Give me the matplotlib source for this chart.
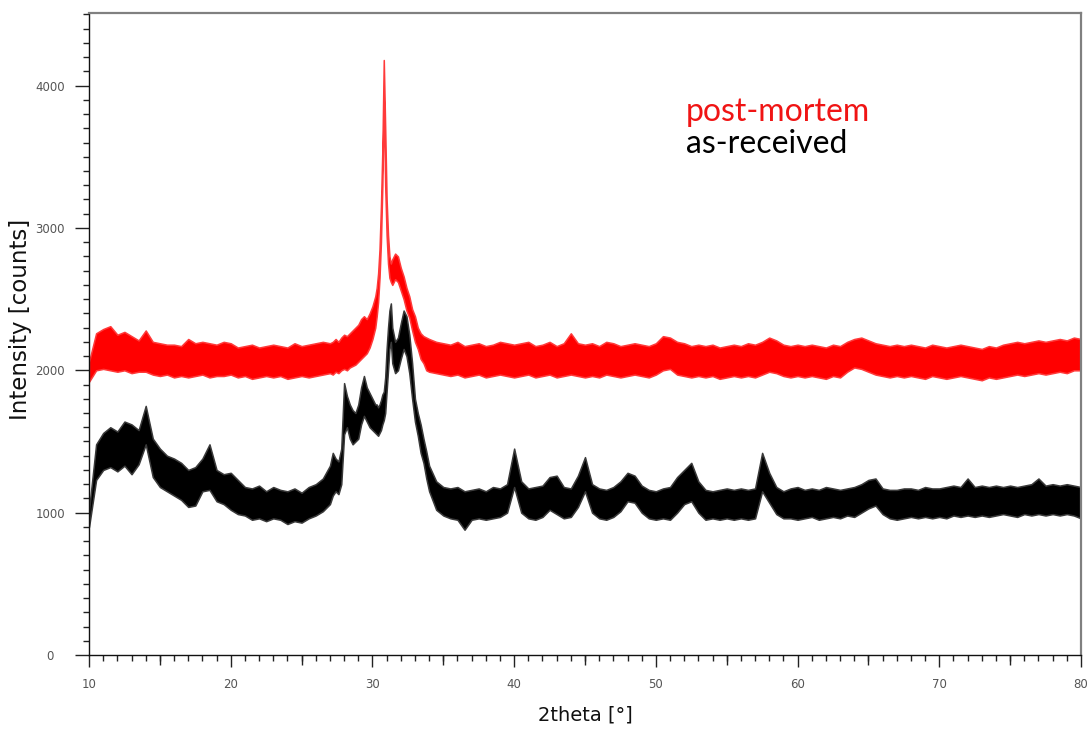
import numpy as np
import matplotlib
matplotlib.use("Agg")
import matplotlib.pyplot as plt
from matplotlib.ticker import MultipleLocator

# 2theta grid: coarse on the flat parts, finer across the 27-34 deg hump
tt = np.concatenate([
    np.linspace(10.0, 26.5, 34),
    np.linspace(27.0, 30.2, 17),
    np.linspace(30.3, 31.4, 12),
    np.linspace(31.6, 34.0, 13),
    np.linspace(34.5, 80.0, 92),
])

# as-received: lower / upper edge of the noisy trace (counts)
black_lo = [
    900, 1230, 1300, 1320, 1290, 1330, 1270, 1340, 1480, 1250,
    1180, 1150, 1120, 1090, 1040, 1050, 1150, 1160, 1080, 1060,
    1020, 990, 980, 950, 960, 940, 960, 950, 920, 940,
    930, 960, 980, 1010,
    1060, 1120, 1150, 1130, 1200, 1550, 1600, 1520, 1480, 1500,
    1520, 1620, 1680, 1640, 1600, 1580, 1560,
    1550, 1540, 1560, 1580, 1620, 1650, 1700, 1850, 2000, 2150, 2200, 2050,
    1980, 2000, 2080, 2150, 2100, 1980, 1800, 1640, 1540, 1420, 1350, 1240, 1150,
    1020, 980, 960, 950, 880, 950, 960, 950, 960, 970,
    1000, 1180, 1000, 960, 950, 970, 1020, 990, 960, 970,
    1040, 1150, 1000, 960, 950, 970, 1010, 1080, 1070, 1000,
    960, 950, 960, 950, 1000, 1060, 1080, 1000, 950, 960,
    950, 960, 950, 960, 950, 960, 1150, 1070, 990, 960,
    960, 950, 960, 970, 950, 960, 970, 960, 980, 970,
    1000, 1030, 1050, 990, 960, 950, 960, 970, 960, 970,
    960, 970, 960, 980, 970, 980, 970, 980, 970, 980,
    990, 980, 970, 990, 980, 990, 980, 990, 980, 990,
    980, 960,
]
black_hi = [
    1020, 1480, 1560, 1600, 1570, 1640, 1620, 1580, 1750, 1520,
    1450, 1400, 1380, 1350, 1300, 1320, 1380, 1480, 1300, 1270,
    1280, 1230, 1180, 1170, 1190, 1150, 1180, 1160, 1150, 1170,
    1140, 1180, 1200, 1240,
    1330, 1420, 1380, 1360, 1450, 1910, 1820, 1760, 1720, 1700,
    1760, 1880, 1960, 1880, 1840, 1800, 1760,
    1760, 1740, 1760, 1790, 1830, 1850, 1950, 2150, 2300, 2420, 2470, 2300,
    2200, 2230, 2330, 2420, 2380, 2250, 2050, 1800, 1700, 1620, 1520, 1430, 1330,
    1220, 1180, 1170, 1180, 1150, 1160, 1170, 1150, 1180, 1170,
    1200, 1450, 1220, 1170, 1180, 1190, 1250, 1260, 1180, 1170,
    1260, 1390, 1200, 1170, 1160, 1180, 1220, 1280, 1260, 1190,
    1160, 1150, 1170, 1180, 1250, 1300, 1350, 1220, 1160, 1150,
    1160, 1170, 1160, 1170, 1160, 1170, 1420, 1280, 1180, 1150,
    1170, 1180, 1160, 1170, 1160, 1180, 1170, 1160, 1170, 1180,
    1200, 1230, 1240, 1170, 1160, 1160, 1170, 1170, 1160, 1180,
    1170, 1170, 1180, 1190, 1180, 1240, 1180, 1190, 1180, 1190,
    1180, 1190, 1180, 1190, 1200, 1240, 1190, 1200, 1190, 1200,
    1190, 1180,
]

# post-mortem: lower / upper edge of the noisy trace (counts)
red_lo = [
    1920, 2000, 2010, 2000, 1990, 2000, 1980, 1990, 1990, 1970,
    1960, 1970, 1950, 1960, 1950, 1960, 1970, 1950, 1960, 1960,
    1970, 1950, 1960, 1940, 1950, 1960, 1950, 1960, 1940, 1950,
    1960, 1950, 1960, 1970,
    1980, 1970, 1990, 1980, 2000, 2010, 2000, 2020, 2030, 2040,
    2060, 2080, 2100, 2120, 2160, 2220, 2300,
    2380, 2480, 2650, 2900, 3300, 3900, 3300, 2950, 2750, 2650, 2620, 2600,
    2640, 2620, 2560, 2500, 2420, 2370, 2280, 2200, 2150, 2080, 2050, 2000, 1990,
    1980, 1970, 1960, 1970, 1950, 1960, 1970, 1950, 1960, 1970,
    1960, 1950, 1960, 1970, 1950, 1960, 1970, 1950, 1960, 1970,
    1960, 1950, 1960, 1950, 1970, 1960, 1950, 1960, 1970, 1960,
    1950, 1970, 2000, 2010, 1970, 1960, 1950, 1960, 1950, 1960,
    1940, 1950, 1960, 1950, 1960, 1950, 1970, 1990, 1980, 1960,
    1950, 1960, 1950, 1960, 1950, 1940, 1960, 1950, 1990, 2020,
    2010, 1990, 1970, 1960, 1950, 1960, 1950, 1960, 1950, 1940,
    1960, 1950, 1940, 1950, 1960, 1950, 1940, 1930, 1950, 1940,
    1950, 1960, 1970, 1960, 1970, 1980, 1970, 1980, 1990, 1980,
    2000, 2000,
]
red_hi = [
    2060, 2260, 2290, 2310, 2250, 2270, 2240, 2210, 2280, 2200,
    2190, 2180, 2180, 2170, 2220, 2190, 2200, 2190, 2180, 2200,
    2190, 2160, 2170, 2180, 2160, 2170, 2180, 2170, 2160, 2190,
    2170, 2180, 2190, 2200,
    2190, 2200, 2220, 2200, 2230, 2250, 2240, 2260, 2280, 2300,
    2320, 2360, 2380, 2360, 2400, 2450, 2520,
    2580, 2680, 2850, 3150, 3550, 4180, 3700, 3200, 2950, 2800, 2750, 2780,
    2820, 2800, 2720, 2660, 2580, 2520, 2430, 2380, 2300, 2260, 2240, 2230, 2220,
    2200, 2190, 2180, 2200, 2170, 2180, 2190, 2170, 2180, 2200,
    2190, 2180, 2190, 2200, 2170, 2180, 2200, 2170, 2190, 2260,
    2190, 2180, 2190, 2170, 2200, 2190, 2170, 2180, 2190, 2180,
    2170, 2190, 2240, 2230, 2200, 2190, 2170, 2180, 2170, 2180,
    2160, 2170, 2180, 2170, 2190, 2180, 2200, 2230, 2210, 2180,
    2170, 2180, 2170, 2180, 2170, 2160, 2180, 2170, 2200, 2220,
    2230, 2210, 2190, 2180, 2170, 2180, 2170, 2180, 2170, 2160,
    2180, 2170, 2160, 2170, 2180, 2170, 2160, 2150, 2170, 2160,
    2180, 2190, 2200, 2190, 2200, 2210, 2200, 2210, 2220, 2210,
    2230, 2220,
]

series_names = ["post-mortem", "as-received"]
series_colors = ["#ff0000", "#000000"]
edge_colors = ["#ff3a3a", "#3a3a3a"]

fig = plt.figure(figsize=(10.91, 7.32), dpi=100)
ax = fig.add_axes([0.0816, 0.1052, 0.9092, 0.8770])

bands = [(red_lo, red_hi), (black_lo, black_hi)]
for (lo, hi), c, ec in zip(bands, series_colors, edge_colors):
    ax.fill_between(tt, lo, hi, facecolor=c, edgecolor=ec, lw=1.1)

ax.set_xlim(10, 80)
ax.set_ylim(0, 4510)

ax.xaxis.set_major_locator(MultipleLocator(10))
ax.xaxis.set_minor_locator(MultipleLocator(1))
ax.yaxis.set_major_locator(MultipleLocator(1000))
ax.yaxis.set_minor_locator(MultipleLocator(100))

ax.tick_params(axis="x", which="major", direction="out", length=8.6, width=1,
               color="#222222", labelcolor="#555555", labelsize=8.5, pad=8)
ax.tick_params(axis="x", which="minor", direction="out", length=4.3, width=1, color="#222222")
ax.tick_params(axis="y", which="major", direction="out", length=10, width=1,
               color="#222222", labelcolor="#555555", labelsize=8.5, pad=18)
ax.tick_params(axis="y", which="minor", direction="out", length=4.5, width=1, color="#222222")
for lab in ax.get_yticklabels():
    lab.set_horizontalalignment("center")

# half-decade ticks on the 2theta axis
sec = ax.secondary_xaxis("bottom")
sec.set_xticks(np.arange(15, 80, 10))
sec.tick_params(length=7, width=1, color="#222222", labelbottom=False)
sec.spines["bottom"].set_visible(False)

for s in ["left", "bottom"]:
    ax.spines[s].set_color("#111111")
    ax.spines[s].set_linewidth(1)
for s in ["top", "right"]:
    ax.spines[s].set_color("#808080")
    ax.spines[s].set_linewidth(1.6)

ax.set_xlabel("2theta [°]", fontsize=14, family="DejaVu Sans", color="#111111")
ax.xaxis.set_label_coords(0.5, -0.078)
ax.set_ylabel("Intensity [counts]", fontsize=16.5, family="DejaVu Sans", color="#111111")
ax.yaxis.set_label_coords(-0.0575, 0.523)

ax.text(52.13, 3749, series_names[0], color="#f01414", fontsize=23, family="Lato", va="baseline")
ax.text(52.13, 3529, series_names[1], color="#000000", fontsize=23, family="Lato", va="baseline")

fig.savefig("out.png", dpi=100)
